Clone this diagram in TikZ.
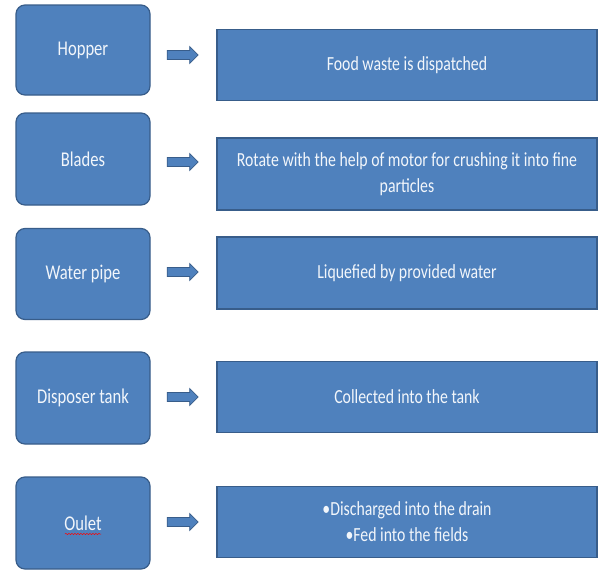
\documentclass[tikz,border=0pt]{standalone}
\usepackage{fontspec}
\setmainfont{Carlito}
\newfontfamily\tallfont[FakeStretch=0.79]{Carlito}
\usetikzlibrary{shapes.arrows,decorations.pathmorphing}
\definecolor{boxblue}{HTML}{4F81BD}
\definecolor{boxedge}{HTML}{385D8A}
\definecolor{txtwhite}{HTML}{F2F6FB}
\begin{document}
\begin{tikzpicture}[x=1pt,y=-1pt,
  lbox/.style={draw=boxedge,line width=1.2pt,fill=boxblue,rounded corners=9pt,minimum width=134pt,text=txtwhite,font=\tallfont\fontsize{21}{25}\selectfont,inner sep=0pt},
  rbox/.style={draw=boxedge,line width=1.2pt,fill=boxblue,minimum width=380pt,minimum height=71pt,text=txtwhite,font=\tallfont\fontsize{20}{26}\selectfont,align=center,inner sep=0pt},
  barrow/.style={single arrow,draw=boxedge,fill=boxblue,line width=0.7pt,minimum height=31pt,minimum width=17pt,single arrow head extend=4pt,inner xsep=0pt,inner ysep=4pt,single arrow tip angle=90}]
\useasboundingbox (0,0) rectangle (598,571);
\fill[white] (0,0) rectangle (598,571);
% left boxes
\node[lbox,minimum height=90pt] (l1) at (83,50) {Hopper};
\node[lbox,minimum height=92pt] (l2) at (83,159) {Blades};
\node[lbox,minimum height=91pt] (l3) at (83,274) {Water pipe};
\node[lbox,minimum height=92pt] (l4) at (83,398) {Disposer tank};
\node[lbox,minimum height=92pt] (l5) at (83,523) {Oulet};
% right boxes
\node[rbox] (r1) at (407,65) {Food waste is dispatched};
\node[rbox,minimum height=72pt] (r2) at (407,174) {Rotate with the help of motor for crushing it into fine\\particles};
\node[rbox,minimum height=72pt] (r3) at (407,273) {Liquefied by provided water};
\node[rbox] (r4) at (407,397) {Collected into the tank};
\node[rbox] (r5) at (407,522) {•Discharged into the drain\\•Fed into the fields};
% arrows
\node[barrow] (a1) at (180.5,55) {};
\node[barrow] (a2) at (180.5,162) {};
\node[barrow] (a3) at (180.5,272) {};
\node[barrow] (a4) at (180.5,397) {};
\node[barrow] (a5) at (180.5,522) {};
% spell-check squiggle
\draw[red,line width=0.5pt,decorate,decoration={snake,amplitude=0.6pt,segment length=3pt}] ([xshift=-18pt,yshift=-11pt]l5.center) -- ([xshift=18pt,yshift=-11pt]l5.center);
\end{tikzpicture}
\end{document}
